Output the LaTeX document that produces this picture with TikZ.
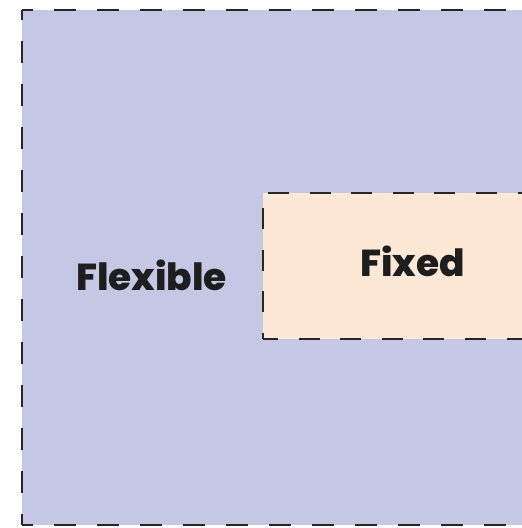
\documentclass[tikz,border=0pt]{standalone}
\usepackage{fontspec}
\newfontfamily\labelfont{Poppins}[BoldFont={* ExtraBold}]
\definecolor{flexfill}{HTML}{C4C8E4}
\definecolor{fixfill}{HTML}{FDE8D6}
\definecolor{edgecol}{HTML}{262626}
\definecolor{textcol}{HTML}{1E1E1E}
\begin{document}
\begin{tikzpicture}[x=1pt,y=-1pt,
  outerdash/.style={draw=edgecol,line width=2pt,dash pattern=on 22pt off 21pt,dash phase=11pt},
  innerdash/.style={draw=edgecol,line width=2pt,dash pattern=on 21pt off 20.6pt},
  lbl/.style={font=\labelfont\bfseries\fontsize{37.5}{42}\selectfont,text=textcol,inner sep=0pt,anchor=base}]
\useasboundingbox (0,0) rectangle (522,528);
\clip (0,0) rectangle (522,528);
% outer flexible area
\fill[flexfill] (22,10) rectangle (600,525);
\draw[outerdash] (22,10) -- (600,10);
\draw[outerdash] (22,525) -- (600,525);
\draw[outerdash] (22,525) -- (22,10);
% inner fixed area
\fill[fixfill] (263,193) rectangle (600,339);
\draw[innerdash,dash phase=36.6pt] (263,193) -- (600,193);
\draw[innerdash,dash phase=6pt] (263,339) -- (600,339);
\draw[innerdash,dash phase=15pt] (263,339) -- (263,193);
% labels
\node[lbl] (flex) at (151.5,290) {Flexible};
\node[lbl] (fix) at (412.5,276) {Fixed};
\end{tikzpicture}
\end{document}
